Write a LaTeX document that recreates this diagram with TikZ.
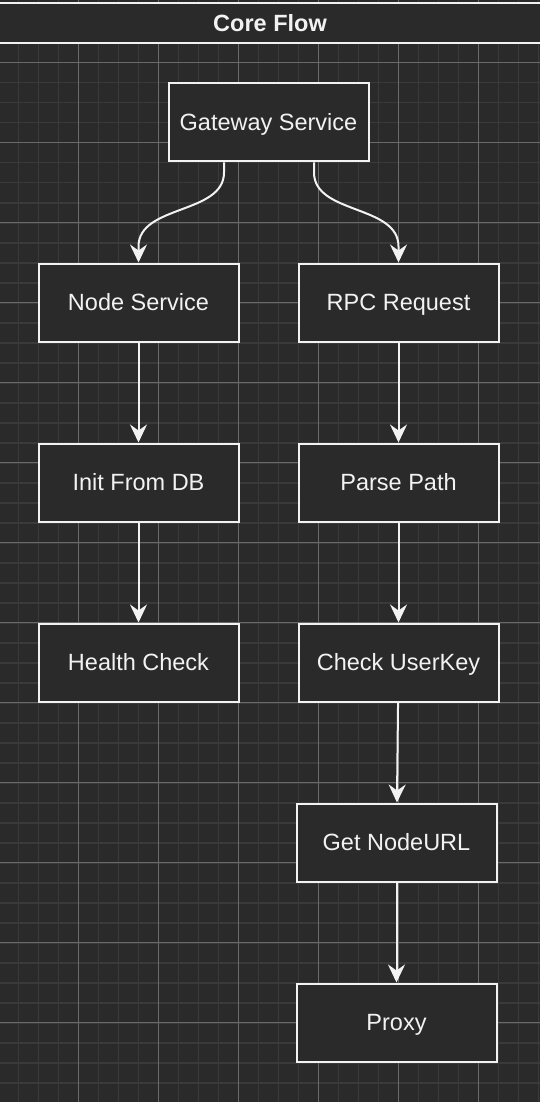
\documentclass[tikz,border=0pt]{standalone}
\usepackage{fontspec}
\setmainfont{Liberation Sans}
\usepackage{xcolor}
\usetikzlibrary{positioning,arrows.meta}

\definecolor{canvas}{HTML}{2A2A2A}
\definecolor{minorline}{HTML}{3A3A3A}
\definecolor{majorline}{HTML}{6A6A6A}
\definecolor{ink}{HTML}{F2F2F2}

\begin{document}
\begin{tikzpicture}[
    x=1pt,y=-1pt,
    every node/.style={font=\fontsize{23.5}{28}\selectfont,text=ink,text height=16.8pt,text depth=0pt},
    node distance=100pt and 0pt,
    box/.style={draw=ink,line width=2pt,fill=canvas,minimum width=200pt,minimum height=78pt,inner sep=0pt},
    header/.style={draw=ink,line width=2pt,fill=canvas,minimum width=546pt,minimum height=40pt,inner sep=0pt,font=\fontsize{23.5}{28}\selectfont\bfseries},
    flow/.style={draw=ink,line width=2pt,-{Stealth[length=18pt,width=17pt,inset=6pt]}}
  ]
  \clip (0,0) rectangle (540,1102);
  \fill[canvas] (0,0) rectangle (540,1102);
  % grid
  \draw[minorline,line width=1.6pt,shift={(-1.7,2.7)}] (-20,-20) grid[step=20pt] (560,1120);
  \draw[majorline,line width=0.8pt,shift={(-1.7,-17.3)}] (-80,-80) grid[step=80pt] (640,1200);

  \node[header] (title) at (270,23) {Core Flow};

  \node[box] (gw) at (268.5,122.5) {Gateway Service};
  \node[box,below=of gw,xshift=-130pt] (ns)  {Node Service};
  \node[box,below=of gw,xshift=130pt]  (rpc) {RPC Request};
  \node[box,below=of ns]   (init)  {Init From DB};
  \node[box,below=of init] (hc)    {Health Check};
  \node[box,below=of rpc]  (pp)    {Parse Path};
  \node[box,below=of pp]   (cuk)   {Check UserKey};
  \node[box,below=of cuk,xshift=-2pt] (gnu) {Get NodeURL};
  \node[box,below=of gnu]  (proxy) {Proxy};

  \draw[flow] ([xshift=-44.5pt]gw.south) -- ++(0,10) .. controls +(0,42) and +(0,-42) .. ([yshift=16pt]ns.north) -- (ns.north);
  \draw[flow] ([xshift=45.5pt]gw.south) -- ++(0,10) .. controls +(0,42) and +(0,-42) .. ([yshift=16pt]rpc.north) -- (rpc.north);
  \draw[flow] (ns) -- (init);
  \draw[flow] (init) -- (hc);
  \draw[flow] (rpc) -- (pp);
  \draw[flow] (pp) -- (cuk);
  \draw[flow] (cuk) -- (gnu);
  \draw[flow] (gnu) -- (proxy);
\end{tikzpicture}
\end{document}
